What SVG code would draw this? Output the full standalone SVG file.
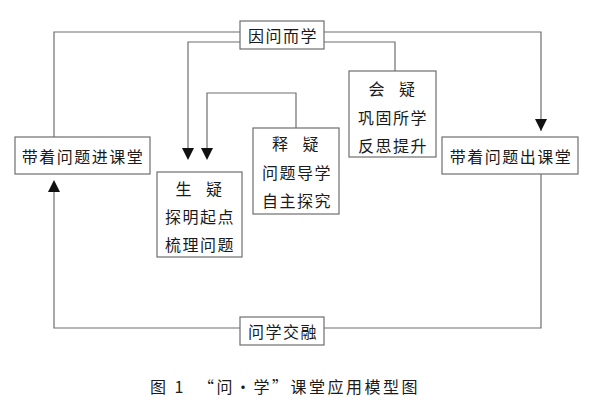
<svg xmlns="http://www.w3.org/2000/svg" width="593" height="414" viewBox="0 0 593 414">
<style>
.box{fill:#fff;stroke:#6e6e6e;stroke-width:1.2}
.ln{fill:none;stroke:#6e6e6e;stroke-width:1.2}
text{font-family:"Noto Sans CJK SC","Noto Sans CJK JP",sans-serif;font-size:16px;fill:#1a1a1a;text-anchor:middle;dominant-baseline:central;letter-spacing:1.5px}
.cap{font-size:16px;letter-spacing:2.5px}
</style>
<defs>
<marker id="ah" viewBox="0 0 12 12" refX="6" refY="12" markerWidth="12" markerHeight="12" markerUnits="userSpaceOnUse" orient="auto-start-reverse">
<path d="M0,0 L12,0 L6,12 Z" fill="#111"/>
</marker>
</defs>
<rect width="593" height="414" fill="#fff"/>
<g id="connectors">
<path class="ln" d="M240,32 H54 V137"/>
<path class="ln" d="M324,32 H541 V131"/>
<path d="M535,119 L547,119 L541,131 Z" fill="#111"/>
<path class="ln" d="M240,42 H188 V148"/>
<path d="M182,148 L194,148 L188,160 Z" fill="#111"/>
<path class="ln" d="M324,42 H395 V71"/>
<path class="ln" d="M296,128 V93 H207 V148"/>
<path d="M201,148 L213,148 L207,160 Z" fill="#111"/>
<path class="ln" d="M240,328 H54 V192"/>
<path d="M48,192 L60,192 L54,180 Z" fill="#111"/>
<path class="ln" d="M324,328 H541 V174"/>
</g>
<g id="top"><rect class="box" x="240" y="21" width="84" height="28"/><text x="283" y="35">因问而学</text></g>
<g id="left"><rect class="box" x="15" y="137" width="135" height="37"/><text x="83" y="156">带着问题进课堂</text></g>
<g id="right"><rect class="box" x="442" y="137" width="136" height="37"/><text x="511" y="156">带着问题出课堂</text></g>
<g id="bottom"><rect class="box" x="240" y="317" width="84" height="28"/><text x="283" y="331">问学交融</text></g>
<g id="shengyi"><rect class="box" x="157" y="172" width="85" height="85"/>
<text x="199.5" y="188" xml:space="preserve" style="word-spacing:8px">生 疑</text>
<text x="200" y="216">探明起点</text>
<text x="200" y="244">梳理问题</text></g>
<g id="shiyi"><rect class="box" x="253" y="128" width="86" height="86"/>
<text x="296" y="143" xml:space="preserve" style="word-spacing:8px">释 疑</text>
<text x="297" y="172">问题导学</text>
<text x="297" y="200">自主探究</text></g>
<g id="huiyi"><rect class="box" x="349" y="71" width="87" height="86"/>
<text x="392.5" y="88" xml:space="preserve" style="word-spacing:8px">会 疑</text>
<text x="393" y="117">巩固所学</text>
<text x="393" y="145">反思提升</text></g>
<text class="cap" x="285" y="386" xml:space="preserve">图 1  “问·学”课堂应用模型图</text>
</svg>
